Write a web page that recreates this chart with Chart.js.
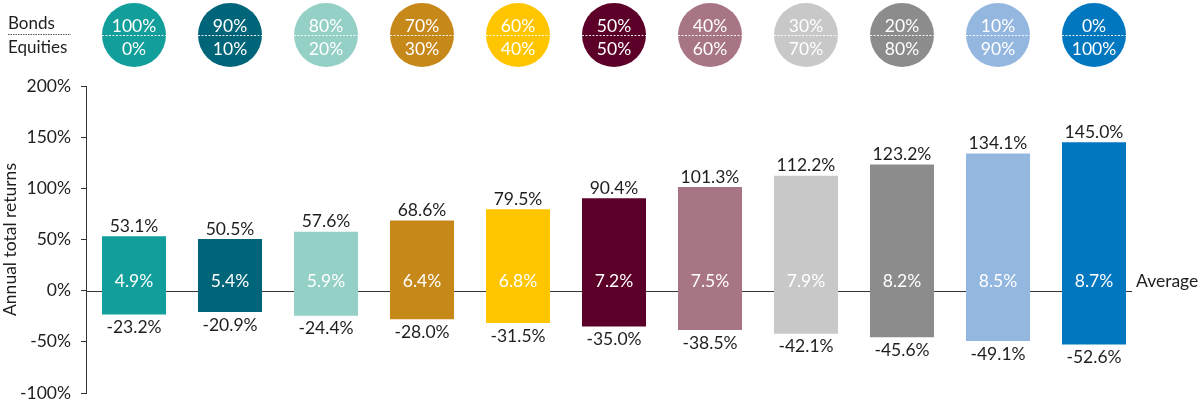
<!DOCTYPE html>
<html>
<head>
<meta charset="utf-8">
<script src="https://cdn.jsdelivr.net/npm/chart.js@4/dist/chart.umd.min.js"></script>
<style>
  html, body { margin: 0; padding: 0; background: #fff; }
  #wrap { width: 1200px; height: 400px; position: relative; }
</style>
</head>
<body>
<div id="wrap"><canvas id="chart"></canvas></div>
<script>
const bonds = ["100%", "90%", "80%", "70%", "60%", "50%", "40%", "30%", "20%", "10%", "0%"];
const equities = ["0%", "10%", "20%", "30%", "40%", "50%", "60%", "70%", "80%", "90%", "100%"];
const maxReturns = [53.1, 50.5, 57.6, 68.6, 79.5, 90.4, 101.3, 112.2, 123.2, 134.1, 145.0];
const minReturns = [-23.2, -20.9, -24.4, -28.0, -31.5, -35.0, -38.5, -42.1, -45.6, -49.1, -52.6];
const avgReturns = [4.9, 5.4, 5.9, 6.4, 6.8, 7.2, 7.5, 7.9, 8.2, 8.5, 8.7];
const colors = ["#129e9a", "#006579", "#94d0c6", "#c7881a", "#ffc600", "#5c0029",
                "#a87584", "#c8c8c8", "#8c8c8c", "#94b7e0", "#0077bf"];

const FONT = "Lato, 'Noto Sans', sans-serif";
const TEXT = "#1e1e1e";
const SIZE = 17.5;

const labelsPlugin = {
  id: "labels",
  beforeDatasetsDraw(chart) {
    const { ctx, chartArea, scales } = chart;
    const y0 = scales.y.getPixelForValue(0);
    ctx.save();
    ctx.strokeStyle = "#333";
    ctx.lineWidth = 1;
    ctx.beginPath();
    ctx.moveTo(chartArea.left, Math.round(y0) + 0.5);
    ctx.lineTo(chartArea.right - 10, Math.round(y0) + 0.5);
    ctx.stroke();
    ctx.restore();
  },
  afterDatasetsDraw(chart) {
    const { ctx, chartArea, scales } = chart;
    const y0 = scales.y.getPixelForValue(0);
    ctx.save();
    ctx.font = SIZE + "px " + FONT;
    ctx.textAlign = "center";
    ctx.textBaseline = "middle";
    maxReturns.forEach((v, i) => {
      const x = scales.x.getPixelForValue(i);
      ctx.fillStyle = TEXT;
      ctx.fillText(v.toFixed(1) + "%", x, scales.y.getPixelForValue(v) - 10);
      ctx.fillText(minReturns[i].toFixed(1) + "%", x, scales.y.getPixelForValue(minReturns[i]) + 13);
      ctx.fillStyle = "#fff";
      ctx.fillText(avgReturns[i].toFixed(1) + "%", x, y0 - 9);
    });
    ctx.fillStyle = TEXT;
    ctx.textAlign = "left";
    ctx.fillText("Average", chartArea.right - 6, y0 - 9);

    // header circles
    bonds.forEach((b, i) => {
      const x = scales.x.getPixelForValue(i);
      const cy = 35;
      ctx.fillStyle = colors[i];
      ctx.beginPath();
      ctx.arc(x, cy, 32, 0, Math.PI * 2);
      ctx.fill();
      ctx.strokeStyle = "rgba(255,255,255,0.9)";
      ctx.lineWidth = 1;
      ctx.setLineDash([2, 1.5]);
      ctx.beginPath();
      ctx.moveTo(x - 32, cy + 0.5);
      ctx.lineTo(x + 32, cy + 0.5);
      ctx.stroke();
      ctx.setLineDash([]);
      ctx.fillStyle = "#fff";
      ctx.font = SIZE + "px " + FONT;
      ctx.textAlign = "center";
      ctx.fillText(b, x, cy - 9);
      ctx.fillText(equities[i], x, cy + 14);
    });

    ctx.fillStyle = TEXT;
    ctx.font = "17px " + FONT;
    ctx.textAlign = "left";
    ctx.fillText("Bonds", 8, 24);
    ctx.fillText("Equities", 8, 48);
    ctx.strokeStyle = "#555";
    ctx.setLineDash([1.5, 1]);
    ctx.beginPath();
    ctx.moveTo(8, 34.5);
    ctx.lineTo(71, 34.5);
    ctx.stroke();
    ctx.restore();
  }
};

new Chart(document.getElementById("chart"), {
  type: "bar",
  data: {
    labels: bonds.map((b, i) => b + "/" + equities[i]),
    datasets: [{
      data: minReturns.map((m, i) => [m, maxReturns[i]]),
      backgroundColor: colors,
      borderWidth: 0,
      barPercentage: 0.667,
      categoryPercentage: 1
    }]
  },
  options: {
    responsive: true,
    maintainAspectRatio: false,
    animation: false,
    layout: { padding: { top: 86, right: 58, bottom: 7, left: 0 } },
    plugins: { legend: { display: false }, tooltip: { enabled: false } },
    scales: {
      x: { display: false },
      y: {
        min: -100,
        max: 200,
        afterFit: s => { s.width = 86; s.paddingTop = 0; s.paddingBottom = 0; },
        ticks: {
          stepSize: 50,
          color: TEXT,
          padding: 10,
          font: { family: FONT, size: SIZE, lineHeight: 1 },
          callback: v => v + "%"
        },
        grid: { drawOnChartArea: false, drawTicks: true, tickLength: 5, color: "#333" },
        border: { display: true, color: "#333" },
        title: {
          display: true,
          text: "Annual total returns",
          color: TEXT,
          padding: { top: 0, bottom: 2 },
          font: { family: FONT, size: SIZE }
        }
      }
    }
  },
  plugins: [labelsPlugin]
});
</script>
</body>
</html>
